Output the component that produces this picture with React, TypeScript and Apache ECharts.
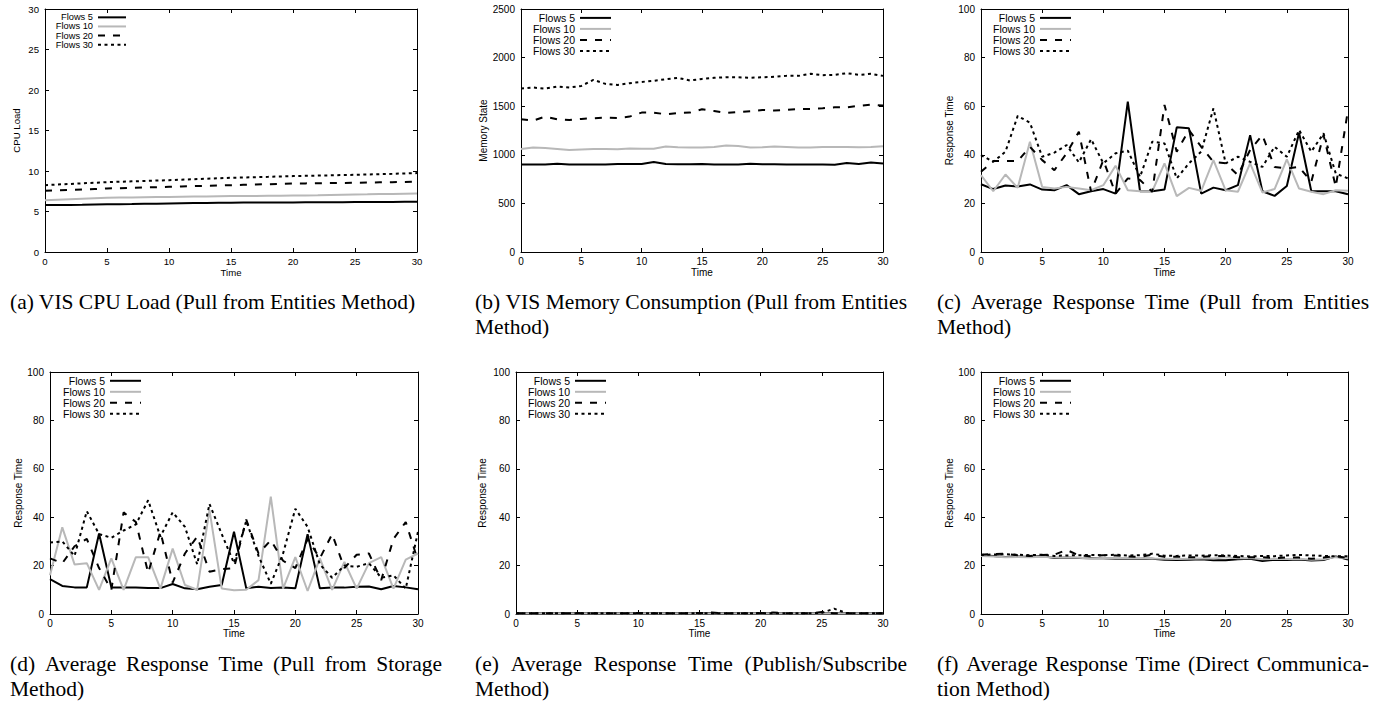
import React, { useEffect, useRef } from 'react';
import * as echarts from 'echarts';

// ---------- data ----------
const timePoints = [0, 1, 2, 3, 4, 5, 6, 7, 8, 9, 10, 11, 12, 13, 14, 15, 16, 17, 18, 19, 20, 21, 22, 23, 24, 25, 26, 27, 28, 29, 30];
const flowNames = ['Flows 5', 'Flows 10', 'Flows 20', 'Flows 30'];

// (a) CPU load
const cpuFlows5 = [5.8, 5.8, 5.8, 5.82, 5.85, 5.88, 5.9, 5.92, 5.95, 5.97, 6.0, 6.02, 6.04, 6.05, 6.07, 6.08, 6.1, 6.1, 6.11, 6.12, 6.12, 6.13, 6.14, 6.15, 6.15, 6.16, 6.17, 6.18, 6.18, 6.19, 6.2];
const cpuFlows10 = [6.4, 6.46, 6.52, 6.58, 6.64, 6.7, 6.72, 6.74, 6.76, 6.78, 6.8, 6.82, 6.84, 6.86, 6.88, 6.9, 6.91, 6.92, 6.94, 6.95, 6.97, 6.99, 7.01, 7.04, 7.07, 7.1, 7.12, 7.15, 7.17, 7.2, 7.22];
const cpuFlows20 = [7.55, 7.6, 7.66, 7.72, 7.78, 7.84, 7.88, 7.92, 7.96, 8.0, 8.05, 8.09, 8.13, 8.17, 8.21, 8.25, 8.29, 8.33, 8.37, 8.41, 8.45, 8.47, 8.49, 8.51, 8.53, 8.55, 8.57, 8.6, 8.62, 8.65, 8.68];
const cpuFlows30 = [8.25, 8.33, 8.4, 8.48, 8.55, 8.62, 8.67, 8.72, 8.77, 8.82, 8.87, 8.93, 8.99, 9.04, 9.1, 9.16, 9.2, 9.24, 9.28, 9.33, 9.37, 9.4, 9.43, 9.46, 9.5, 9.53, 9.57, 9.61, 9.65, 9.7, 9.74];

// (b) memory state
const memFlows5 = [900, 900, 900, 908, 900, 900, 900, 900, 905, 905, 905, 925, 905, 903, 903, 906, 900, 900, 900, 908, 902, 902, 900, 900, 900, 900, 898, 915, 905, 920, 910];
const memFlows10 = [1060, 1075, 1070, 1060, 1050, 1055, 1060, 1060, 1058, 1065, 1062, 1062, 1085, 1078, 1075, 1075, 1080, 1095, 1090, 1075, 1078, 1085, 1080, 1075, 1075, 1080, 1080, 1080, 1078, 1080, 1088];
const memFlows20 = [1365, 1351, 1393, 1365, 1358, 1369, 1376, 1382, 1379, 1393, 1434, 1434, 1417, 1430, 1434, 1468, 1451, 1430, 1441, 1448, 1461, 1455, 1461, 1472, 1472, 1479, 1489, 1489, 1503, 1517, 1506];
const memFlows30 = [1681, 1692, 1681, 1702, 1692, 1709, 1771, 1730, 1719, 1737, 1750, 1761, 1778, 1792, 1764, 1781, 1792, 1798, 1798, 1792, 1798, 1802, 1812, 1812, 1833, 1819, 1822, 1840, 1822, 1833, 1812];

// (c) response time, pull from entities
const entFlows5 = [27.9, 25.9, 27.4, 27, 27.8, 25.7, 25.4, 27.5, 23.8, 25, 25.9, 24, 61.9, 25, 25, 25.7, 51.3, 50.9, 24, 26.5, 25.4, 27.5, 48.1, 25, 23.1, 27.2, 49.1, 25, 25, 25, 23.8];
const entFlows10 = [31.6, 25, 31.9, 26.4, 45.4, 26.8, 26.1, 26.8, 26.1, 25.4, 27.5, 35.5, 25.4, 25, 25, 36.5, 23, 26.4, 25.2, 37.8, 25.4, 24.8, 36.5, 24.5, 25.9, 38.1, 26.1, 24.8, 23.8, 25.4, 25.2];
const entFlows20 = [33, 37.4, 37.4, 37.4, 43.3, 37.8, 33.7, 40.6, 49.5, 24.8, 37.8, 24, 30.3, 29.6, 24.8, 60.5, 41.3, 50.2, 43.3, 37.1, 36.5, 31.6, 42, 48.1, 35, 34.4, 35, 28.9, 48.1, 26.8, 58.5];
const entFlows30 = [39.9, 37.1, 41.3, 56, 53.2, 39.2, 40.9, 44, 36.9, 46.4, 36.5, 40.6, 41.7, 30.9, 45.4, 44.7, 30.3, 36.5, 41.3, 59.1, 36.5, 39.2, 37.1, 35, 43.3, 39.2, 50.2, 41.3, 48.8, 32.3, 30.3];

// (d) response time, pull from storage
const stoFlows5 = [14.4, 11.6, 11, 11, 33.3, 11, 11, 11, 10.7, 10.7, 12.4, 10.6, 10.2, 11.3, 12, 34, 10.6, 11.3, 10.7, 11, 10.6, 33, 10.6, 10.9, 10.9, 11.3, 11.4, 10.2, 11.6, 11, 10.2];
const stoFlows10 = [16, 35.8, 20.5, 21, 10, 23, 10, 23.5, 23.5, 10.5, 27, 12, 10, 43, 10.5, 9.8, 10, 14, 48.5, 10.5, 23.5, 9.5, 23, 10, 21.5, 10.5, 21, 23.5, 10.5, 22.5, 25];
const stoFlows20 = [23, 21, 28, 31, 19, 10, 42, 38, 17, 34, 13, 25, 32, 17.5, 18.5, 19, 39, 25, 30.5, 22, 19, 31, 23, 33, 19, 24.5, 25, 14, 31, 38, 22];
const stoFlows30 = [29.5, 30, 24, 42.5, 33, 31.5, 34.5, 37, 47, 32, 42, 36, 20.5, 45.5, 33, 21, 38.5, 24, 12.5, 25, 43.5, 36, 20.5, 15, 20, 19.5, 21, 15, 16, 10.5, 34];

// (e) response time, publish/subscribe
const pubFlows5 = [0.3, 0.3, 0.3, 0.3, 0.3, 0.3, 0.3, 0.3, 0.3, 0.3, 0.3, 0.3, 0.3, 0.3, 0.3, 0.3, 0.4, 0.3, 0.3, 0.3, 0.3, 0.3, 0.3, 0.3, 0.3, 0.3, 0.3, 0.3, 0.3, 0.3, 0.3];
const pubFlows10 = [0.2, 0.2, 0.2, 0.2, 0.2, 0.2, 0.2, 0.2, 0.2, 0.2, 0.2, 0.2, 0.2, 0.2, 0.2, 0.2, 0.2, 0.2, 0.2, 0.2, 0.2, 0.2, 0.2, 0.2, 0.2, 0.2, 0.2, 0.2, 0.2, 0.2, 0.2];
const pubFlows20 = [0.3, 0.3, 0.3, 0.3, 0.3, 0.4, 0.3, 0.3, 0.3, 0.3, 0.4, 0.3, 0.3, 0.3, 0.3, 0.4, 0.6, 0.3, 0.3, 0.3, 0.4, 0.6, 0.3, 0.3, 0.3, 0.8, 0.3, 0.3, 0.3, 0.3, 0.3];
const pubFlows30 = [0.3, 0.3, 0.3, 0.3, 0.3, 0.3, 0.3, 0.3, 0.3, 0.3, 0.3, 0.3, 0.3, 0.3, 0.3, 0.3, 0.3, 0.3, 0.3, 0.3, 0.4, 0.3, 0.3, 0.3, 0.3, 0.5, 2.2, 0.4, 0.3, 0.3, 0.3];

// (f) response time, direct communication
const dirFlows5 = [24.3, 24.0, 23.6, 23.8, 23.6, 24.0, 23.1, 23.3, 23.1, 23.0, 23.0, 22.8, 22.8, 22.9, 22.8, 22.4, 22.3, 22.4, 22.6, 22.2, 22.2, 22.6, 22.8, 21.9, 22.4, 22.3, 22.5, 22.1, 22.3, 23.8, 22.5];
const dirFlows10 = [24.0, 23.8, 23.5, 23.6, 23.5, 23.7, 23.3, 23.4, 23.2, 22.9, 23.1, 23.0, 23.0, 23.1, 22.9, 22.8, 22.7, 22.8, 22.9, 22.9, 23.4, 23.0, 23.1, 22.6, 22.8, 22.7, 22.8, 22.4, 22.6, 23.5, 23.0];
const dirFlows20 = [24.5, 24.8, 24.9, 24.3, 24.0, 24.4, 24.5, 26.5, 24.2, 23.9, 24.3, 24.2, 23.8, 23.6, 24.5, 23.6, 23.7, 23.4, 23.6, 23.9, 24.0, 23.5, 23.4, 23.5, 23.1, 23.4, 23.3, 22.8, 23.3, 23.9, 23.1];
const dirFlows30 = [24.4, 24.6, 24.7, 24.5, 24.3, 24.5, 24.0, 24.2, 24.3, 24.4, 24.3, 24.5, 24.2, 24.3, 24.9, 24.1, 24.0, 24.2, 24.1, 24.3, 24.2, 24.0, 23.8, 24.0, 23.9, 24.2, 24.4, 24.2, 24.0, 23.8, 23.9];

// axis tick settings
const xMax = 30;
const xStep = 5;
const yMaxes = [30, 2500, 100, 100, 100, 100];
const ySteps = [5, 500, 20, 20, 20, 20];
const yNames = ['CPU Load', 'Memory State', 'Response Time', 'Response Time', 'Response Time', 'Response Time'];
const xName = 'Time';

// captions (each entry: lines; all lines but the last are justified)
const captions = [
  ['(a) VIS CPU Load (Pull from Entities Method)'],
  ['(b) VIS Memory Consumption (Pull from Entities', 'Method)'],
  ['(c) Average Response Time (Pull from Entities', 'Method)'],
  ['(d) Average Response Time (Pull from Storage', 'Method)'],
  ['(e) Average Response Time (Publish/Subscribe', 'Method)'],
  ['(f) Average Response Time (Direct Communica-', 'tion Method)'],
];

const panelSeries = [
  [cpuFlows5, cpuFlows10, cpuFlows20, cpuFlows30],
  [memFlows5, memFlows10, memFlows20, memFlows30],
  [entFlows5, entFlows10, entFlows20, entFlows30],
  [stoFlows5, stoFlows10, stoFlows20, stoFlows30],
  [pubFlows5, pubFlows10, pubFlows20, pubFlows30],
  [dirFlows5, dirFlows10, dirFlows20, dirFlows30],
];

// ---------- layout (positions / styles) ----------
const layout = [
  { left: 45, top: 9, width: 372, height: 243, fs: 9.6, yGap: 24, xGap: 15, lgRight: 1261, lgTop: 12.8, lgIcon: 28, lgFs: 9.3, lgLh: 9.1 },
  { left: 521, top: 9, width: 362, height: 243, fs: 10, yGap: 33, xGap: 15, lgRight: 776, lgTop: 12.4, lgIcon: 31, lgFs: 10.5, lgLh: 10.8 },
  { left: 981, top: 9, width: 367, height: 243, fs: 10, yGap: 27, xGap: 15, lgRight: 316, lgTop: 12.4, lgIcon: 31, lgFs: 10.5, lgLh: 10.8 },
  { left: 50, top: 372, width: 368, height: 242, fs: 10, yGap: 26, xGap: 14.5, lgRight: 1246, lgTop: 375.3, lgIcon: 31, lgFs: 10.5, lgLh: 10.4 },
  { left: 516, top: 372, width: 367, height: 242, fs: 10, yGap: 29, xGap: 14.5, lgRight: 781, lgTop: 375.3, lgIcon: 31, lgFs: 10.5, lgLh: 10.4 },
  { left: 981, top: 372, width: 367, height: 242, fs: 10, yGap: 27, xGap: 14.5, lgRight: 316, lgTop: 375.3, lgIcon: 31, lgFs: 10.5, lgLh: 10.4 },
];

const captionCols = [10, 475, 937];
const captionWidth = 432;
const captionRows = [302, 664];
const captionLineGap = 24.5;
const captionFontSize = 21.5;
const captionFont = 'Liberation Serif';

const lineStyles = [
  { color: '#000000', width: 2, type: 'solid' as any },
  { color: '#b8b8b8', width: 2, type: 'solid' as any },
  { color: '#000000', width: 2, type: [7, 8] as any },
  { color: '#000000', width: 2, type: [3, 3.5] as any },
];

const SANS = 'Liberation Sans';

function measure(text: string, font: string): number {
  const c = document.createElement('canvas').getContext('2d');
  if (!c) return text.length * 10;
  c.font = font;
  return c.measureText(text).width;
}

function buildCaptions(): any[] {
  const out: any[] = [];
  const font = `${captionFontSize}px "${captionFont}"`;
  captions.forEach((lines, idx) => {
    const col = idx % 3;
    const row = Math.floor(idx / 3);
    const x0 = captionCols[col];
    lines.forEach((line, li) => {
      const y = captionRows[row] + li * captionLineGap;
      const justify = li < lines.length - 1;
      const words = line.split(' ');
      const baseStyle = { fontSize: captionFontSize, fontFamily: captionFont, fill: '#000', textVerticalAlign: 'middle', textAlign: 'left' };
      if (!justify) {
        out.push({ type: 'text', x: x0, y, silent: true, style: { ...baseStyle, text: line } });
        return;
      }
      const ws = words.map((w) => measure(w, font));
      const total = ws.reduce((a, b) => a + b, 0);
      const gap = (captionWidth - total) / (words.length - 1);
      let cx = x0;
      words.forEach((w, wi) => {
        out.push({ type: 'text', x: cx, y, silent: true, style: { ...baseStyle, text: w } });
        cx += ws[wi] + gap;
      });
    });
  });
  return out;
}

function buildOption(): any {
  const grid: any[] = [];
  const xAxis: any[] = [];
  const yAxis: any[] = [];
  const series: any[] = [];
  const legend: any[] = [];

  layout.forEach((p, i) => {
    grid.push({ left: p.left, top: p.top, width: p.width, height: p.height, containLabel: false });
    const axisLine = { show: true, onZero: false, lineStyle: { color: '#000', width: 1 } };
    const axisTick = { show: true, inside: true, length: 4, lineStyle: { color: '#000', width: 1 } };
    const label = { color: '#000', fontSize: p.fs, fontFamily: SANS, formatter: (v: number) => String(v) };
    xAxis.push({
      gridIndex: i, type: 'value', min: 0, max: xMax, interval: xStep, position: 'bottom',
      name: xName, nameLocation: 'middle', nameGap: p.xGap,
      nameTextStyle: { color: '#000', fontSize: p.fs, fontFamily: SANS },
      axisLine, axisTick, axisLabel: { ...label, margin: 4 }, splitLine: { show: false },
    });
    xAxis.push({
      gridIndex: i, type: 'value', min: 0, max: xMax, interval: xStep, position: 'top',
      axisLine, axisTick, axisLabel: { show: false }, splitLine: { show: false },
    });
    yAxis.push({
      gridIndex: i, type: 'value', min: 0, max: yMaxes[i], interval: ySteps[i], position: 'left',
      name: yNames[i], nameLocation: 'middle', nameGap: p.yGap, nameRotate: 90,
      nameTextStyle: { color: '#000', fontSize: p.fs, fontFamily: SANS },
      axisLine, axisTick, axisLabel: { ...label, margin: 6 }, splitLine: { show: false },
    });
    yAxis.push({
      gridIndex: i, type: 'value', min: 0, max: yMaxes[i], interval: ySteps[i], position: 'right',
      axisLine, axisTick, axisLabel: { show: false }, splitLine: { show: false },
    });
    panelSeries[i].forEach((vals, si) => {
      series.push({
        type: 'line', name: flowNames[si], xAxisIndex: 2 * i, yAxisIndex: 2 * i,
        showSymbol: false, symbol: 'none', clip: true,
        lineStyle: { ...lineStyles[si] }, itemStyle: { color: lineStyles[si].color },
        data: timePoints.map((t, k) => [t, vals[k]]),
      });
    });
    legend.push({
      orient: 'vertical', align: 'right', right: p.lgRight, top: p.lgTop, padding: 0,
      itemWidth: p.lgIcon, itemHeight: 9, itemGap: 0, selectedMode: false,
      itemStyle: { color: 'rgba(0,0,0,0)', borderWidth: 0, opacity: 0 },
      lineStyle: { width: 2 },
      textStyle: { color: '#000', fontSize: p.lgFs, fontFamily: SANS, lineHeight: p.lgLh },
      data: flowNames,
    });
  });

  return {
    animation: false,
    backgroundColor: '#ffffff',
    grid, xAxis, yAxis, series, legend,
    graphic: buildCaptions(),
  };
}

export default function App() {
  const ref = useRef<HTMLDivElement>(null);
  useEffect(() => {
    if (!ref.current) return;
    const chart = echarts.init(ref.current, undefined, { renderer: 'svg' });
    chart.setOption(buildOption());
    return () => chart.dispose();
  }, []);
  return (
    <div
      ref={ref}
      style={{ position: 'absolute', left: 0, top: 0, width: 1388, height: 704, background: '#fff' }}
    />
  );
}
